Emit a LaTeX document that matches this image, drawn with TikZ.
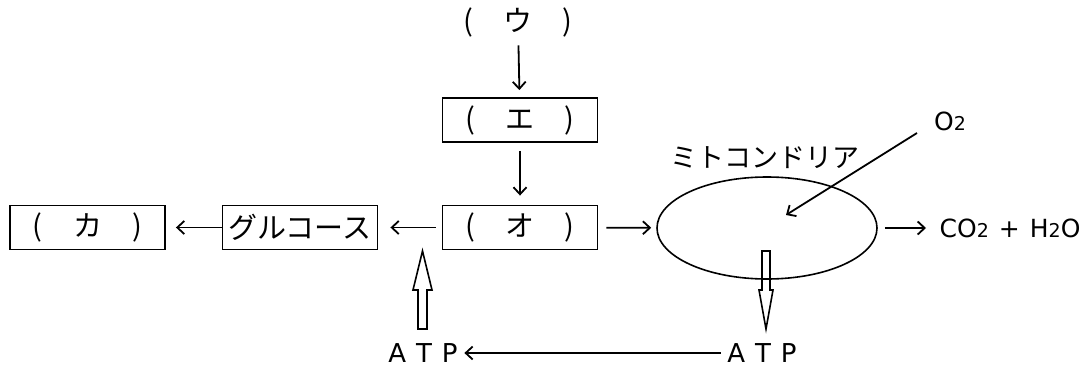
\documentclass[tikz,border=0pt]{standalone}
\usepackage{fontspec}
\setmainfont{Noto Sans CJK JP}
\newfontfamily\latinfont{DejaVu Sans}
\usetikzlibrary{arrows.meta,shapes.geometric}

\newcommand{\lowtwo}{{\fontsize{19}{20}\selectfont 2}}

\begin{document}
\begin{tikzpicture}[x=1pt,y=-1pt,line width=1.4pt,
  jp/.style={inner sep=0pt,font=\fontsize{29}{32}\selectfont},
  box/.style={draw,line width=1.9pt,minimum width=155pt,minimum height=44pt,inner sep=0pt,font=\fontsize{29}{32}\selectfont},
  lat/.style={inner sep=0pt,font=\latinfont\fontsize{25}{28}\selectfont},
  arr/.style={-{Straight Barb[length=7pt,width=13pt,line width=1.8pt]},line width=1.8pt},
  hollow/.style={draw,line width=1.6pt,line join=miter}]
\useasboundingbox (0,0) rectangle (1090,367);

% blanks and compartments
\node[jp]  (u)  at (518,22)    {(\hspace{1.05em}ウ\hspace{1.05em})};
\node[box] (e)  at (520,120)   {(\hspace{1.05em}エ\hspace{1.05em})};
\node[box] (o)  at (520,227.5) {(\hspace{1.05em}オ\hspace{1.05em})};
\node[box] (ka) at (87.5,227.5){(\hspace{1.05em}カ\hspace{1.05em})};
\node[box] (g)  at (300,227.5) {グルコース};
\node[draw,ellipse,line width=1.6pt,minimum width=220pt,minimum height=102pt,inner sep=0pt] (m) at (767,228) {};
\node[jp,font=\fontsize{27}{30}\selectfont] (ml) at (765,158) {ミトコンドリア};
\node[lat] (o2) at (950,121) {O\lowtwo};
\node[lat,anchor=west] (co) at (939,228) {CO\lowtwo\hspace{10pt}+\hspace{10pt}H\lowtwo O};
\node[lat,font=\latinfont\fontsize{26}{28}\selectfont] (atpL) at (423,353) {A\hspace{10pt}T\hspace{10pt}P};
\node[lat,font=\latinfont\fontsize{26}{28}\selectfont] (atpR) at (762,353) {A\hspace{10pt}T\hspace{10pt}P};

% thin arrows
\draw[arr,shorten <=8pt,shorten >=7pt] (u) -- (e);
\draw[arr,shorten <=8pt,shorten >=9pt] (e) -- (o);
\draw[arr,shorten <=6pt,shorten >=12pt] (o) -- (g);
\draw[arr,shorten >=10pt] (g) -- (ka);
\draw[arr,shorten <=8pt,shorten >=5pt] (o) -- (m);
\draw[arr,shorten <=7pt,shorten >=13pt] (m) -- (co);
\draw[arr] ([shift={(-33,12)}]o2.center) -- ([shift={(19,-13)}]m.center);
\draw[arr,shorten <=6pt,shorten >=6pt] (atpR) -- (atpL);

% hollow arrows for ATP supply
\coordinate (hu) at (422.5,290);
\draw[hollow] (hu) ++(-4.5,39) -- ++(0,-39) -- ++(-5,0) -- ++(9.5,-39) -- ++(9.5,39) -- ++(-5,0) -- ++(0,39) -- cycle;
\coordinate (hd) at (766,290);
\draw[hollow] (hd) ++(-4,-39) -- ++(0,39) -- ++(-3,0) -- ++(7,39) -- ++(7,-39) -- ++(-3,0) -- ++(0,-39) -- cycle;
\end{tikzpicture}
\end{document}
